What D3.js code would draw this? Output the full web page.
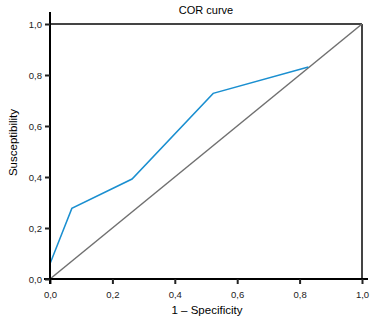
<!DOCTYPE html>
<html lang="en">
<head>
    <meta charset="UTF-8">
    <script src="https://d3js.org/d3.v7.min.js"></script>
    <style>
        body{ margin:0; background:#fff; }
        text{ font-family: "Liberation Sans", Arial, sans-serif; }
    </style>
    <title>COR curve</title>
</head>
<body>
    <div class="canvas"></div>
</body>
<script>
    // data
    const fpr = [0, 0.07, 0.263, 0.523, 0.828];
    const tpr = [0.06, 0.277, 0.392, 0.728, 0.831];
    const refLine = [0, 1];
    const tickVals = [0, 0.2, 0.4, 0.6, 0.8, 1.0];

    const width = 375;
    const height = 321;
    let [mt,mb,mr,ml]=[24,42,13,50];
    const svg = d3.select('.canvas')
                    .append('svg')
                    .attr('width',width)
                    .attr('height',height);

    const graphWidth = width - ml - mr;
    const graphHeight = height - mt - mb;
    const graph = svg.append('g')
                    .attr('transform',`translate(${ml},${mt})`);

    const x = d3.scaleLinear().domain([0,1]).range([0,graphWidth]);
    const y = d3.scaleLinear().domain([0,1]).range([graphHeight,0]);
    const fmt = d => d3.format('.1f')(d).replace('.',',');

    // frame top/right
    graph.append('line')
        .attr('x1',x(0)).attr('x2',x(1)).attr('y1',y(1)).attr('y2',y(1))
        .attr('stroke','#444').attr('stroke-width',2);
    graph.append('line')
        .attr('x1',x(1)).attr('x2',x(1)).attr('y1',y(1)).attr('y2',y(0))
        .attr('stroke','#444').attr('stroke-width',2);

    // diagonal
    graph.append('path')
        .attr('d',d3.line().x(d=>x(d)).y(d=>y(d))(refLine))
        .attr('fill','none').attr('stroke','#707070').attr('stroke-width',1.5);

    // roc curve
    const pts = fpr.map((v,i)=>[v,tpr[i]]);
    graph.append('path')
        .attr('d',d3.line().x(d=>x(d[0])).y(d=>y(d[1]))(pts))
        .attr('fill','none').attr('stroke','#1a8fd0').attr('stroke-width',1.5);

    const xAxis = d3.axisBottom(x).tickValues(tickVals).tickFormat(fmt).tickSize(5).tickSizeOuter(0);
    const yAxis = d3.axisLeft(y).tickValues(tickVals).tickFormat(fmt).tickSize(5).tickSizeOuter(0);

    const xAxisG = graph.append('g').attr('transform',`translate(0,${graphHeight})`).call(xAxis);
    const yAxisG = graph.append('g').call(yAxis);

    xAxisG.select('.domain').attr('d',`M-6,0H${graphWidth+6}`);
    yAxisG.select('.domain').attr('d',`M0,${graphHeight+5}V-12`);
    [xAxisG,yAxisG].forEach(g=>{
        g.select('.domain').attr('stroke','#000').attr('stroke-width',2);
        g.selectAll('.tick line').attr('stroke','#222').attr('stroke-width',2);
        g.selectAll('.tick text').attr('fill','#222').style('font-size','9.5px');
    });
    xAxisG.selectAll('.tick text').attr('dy','0').attr('y',19);
    yAxisG.selectAll('.tick text').attr('x',-8);

    svg.append('text')
        .attr('x',ml+graphWidth/2).attr('y',14)
        .attr('text-anchor','middle').style('font-size','11px')
        .text('COR curve');
    svg.append('text')
        .attr('x',ml+graphWidth/2+1).attr('y',314)
        .attr('text-anchor','middle').style('font-size','11.5px')
        .text('1 – Specificity');
    svg.append('text')
        .attr('transform',`translate(17,${mt+graphHeight/2-9}) rotate(-90)`)
        .attr('text-anchor','middle').style('font-size','11.5px')
        .text('Susceptibility');
</script>
</html>
